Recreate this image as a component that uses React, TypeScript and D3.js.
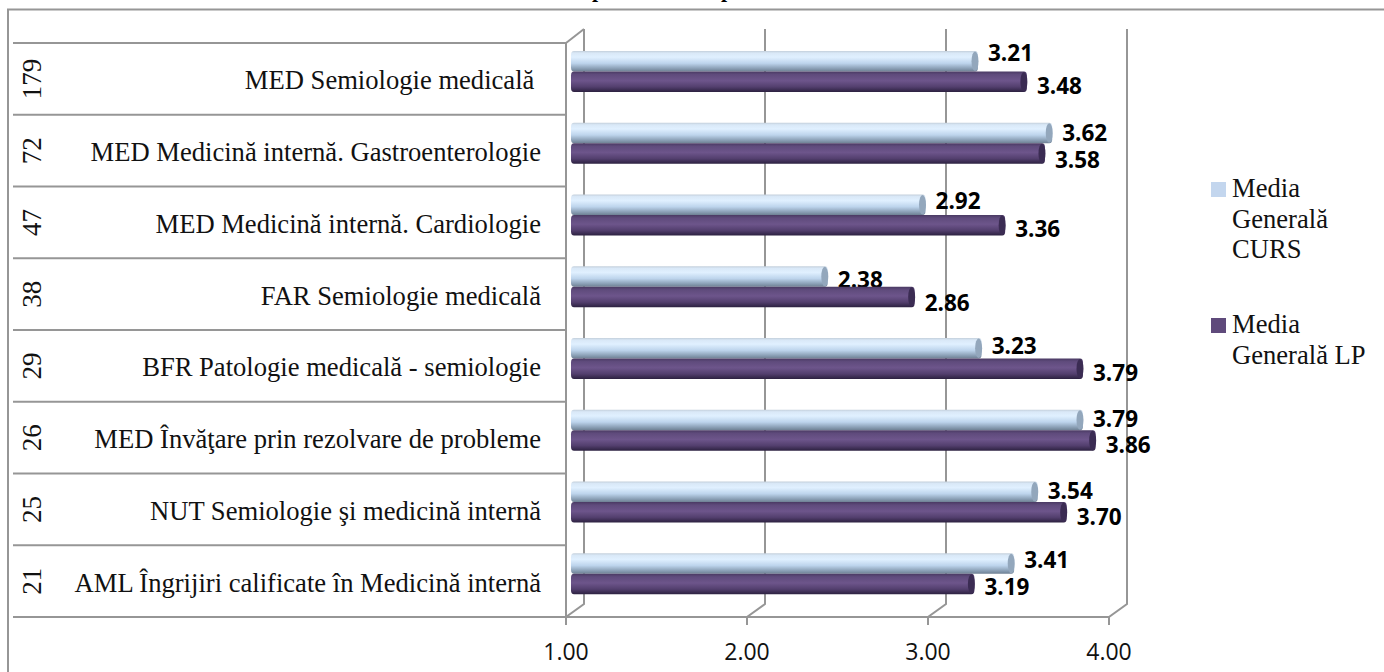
import React, { useEffect, useRef } from 'react';
import * as d3 from 'd3';

const counts = ['179', '72', '47', '38', '29', '26', '25', '21'];
const categories = [
  'MED Semiologie medicală ',
  'MED Medicină internă. Gastroenterologie',
  'MED Medicină internă. Cardiologie',
  'FAR Semiologie medicală',
  'BFR Patologie medicală - semiologie',
  'MED Învăţare prin rezolvare de probleme',
  'NUT Semiologie şi medicină internă',
  'AML Îngrijiri calificate în Medicină internă',
];
const mediaCurs = [3.21, 3.62, 2.92, 2.38, 3.23, 3.79, 3.54, 3.41];
const mediaLp = [3.48, 3.58, 3.36, 2.86, 3.79, 3.86, 3.7, 3.19];
const xTicks = [1, 2, 3, 4];

// hand placed data labels, Excel moved them around
const cursLabelDy = [-8, 0, -4, 3, -2, -1, -1, -4];
const lpLabelDy = [4, 6, 4, 6, 4, 4, 5, 3];

const SERIF = '"Liberation Serif", serif';
const SANS = '"Open Sans", sans-serif';
const GREY = '#969696';

export default function App() {
  const svgRef = useRef<SVGSVGElement>(null);

  useEffect(() => {
    const svg = d3.select(svgRef.current).html('');
    const front = { left: 566, right: 1109, top: 43, bottom: 617 };
    const depth = { x: 18, y: -13 };

    const x = d3.scaleLinear().domain([1, 4]).range([front.left, front.right]);
    const y = d3.scaleBand<number>()
      .domain(d3.range(categories.length))
      .range([front.top, front.bottom]);
    // the cylinders sit in the middle of the 3D floor
    const barShift = 12;
    const barX = (v: number) => x(v) + barShift;
    const barH = 20.5;
    const barTop = 8;

    const defs = svg.append('defs');
    const addGradient = (id: string, stops: [number, string][]) => {
      const g = defs.append('linearGradient').attr('id', id)
        .attr('x1', 0).attr('y1', 0).attr('x2', 0).attr('y2', 1);
      stops.forEach(([o, c]) => g.append('stop').attr('offset', o).attr('stop-color', c));
    };
    addGradient('cursGrad', [[0, '#c3cfdb'], [0.1, '#d9e8f7'], [0.3, '#e0f0ff'], [0.6, '#bdd4ec'], [0.85, '#8ba0b6'], [1, '#6e8093']]);
    addGradient('lpGrad', [[0, '#4a3a63'], [0.15, '#5f4b7c'], [0.45, '#6d558b'], [0.75, '#533f6e'], [1, '#2c2140']]);

    // outer frame
    svg.append('path')
      .attr('d', 'M8,672V9.5H1384')
      .attr('fill', 'none')
      .attr('stroke', GREY)
      .attr('stroke-width', 2);

    // descenders of the title, the rest of it is cut off by the page edge
    svg.selectAll('.title-bit')
      .data([592, 721])
      .enter()
      .append('text')
      .attr('x', d => d)
      .attr('y', -3)
      .attr('font-family', SERIF)
      .attr('font-weight', 'bold')
      .attr('font-size', 22)
      .text('p');

    // back wall and floor
    const wall = svg.append('g').attr('fill', 'none').attr('stroke', GREY).attr('stroke-width', 2);
    xTicks.forEach(t => {
      const px = x(t);
      wall.append('path').attr('d', `M${px + depth.x},${front.top + depth.y - 1}V${front.bottom + depth.y}L${px},${front.bottom}V${front.bottom + 8}`);
    });
    wall.append('path').attr('d', `M${front.left},${front.top}L${front.left + depth.x},${front.top + depth.y - 1}`);
    wall.append('line').attr('x1', front.left).attr('x2', front.left).attr('y1', front.top).attr('y2', front.bottom);
    wall.append('line').attr('x1', 13).attr('x2', front.right).attr('y1', front.bottom).attr('y2', front.bottom);

    // category table lines
    d3.range(categories.length).forEach(i => {
      wall.append('line').attr('x1', 13).attr('x2', front.left)
        .attr('y1', y(i)!).attr('y2', y(i)!);
    });

    const rows = svg.selectAll('.row')
      .data(categories)
      .enter()
      .append('g')
      .attr('class', 'row')
      .attr('transform', (_, i) => `translate(0,${y(i)})`);

    rows.append('text')
      .attr('x', 541)
      .attr('y', y.bandwidth() / 2 + 2.5)
      .attr('dy', '0.3em')
      .attr('text-anchor', 'end')
      .style('white-space', 'pre')
      .attr('font-family', SERIF)
      .attr('font-size', 26.6)
      .attr('fill', '#111')
      .text(d => d);

    rows.append('text')
      .attr('transform', `translate(32,${y.bandwidth() / 2}) rotate(-90)`)
      .attr('dy', '0.32em')
      .attr('text-anchor', 'middle')
      .attr('font-family', SERIF)
      .attr('font-size', 27)
      .attr('fill', '#111')
      .text((_, i) => counts[i]);

    const drawSeries = (values: number[], offset: number, grad: string, cap: string, nudges: number[]) => {
      values.forEach((v, i) => {
        const top = y(i)! + offset;
        const g = svg.append('g');
        g.append('rect')
          .attr('x', front.left + 5)
          .attr('y', top)
          .attr('width', barX(v) - front.left - 5)
          .attr('height', barH)
          .attr('rx', 3)
          .attr('ry', 4)
          .attr('fill', `url(#${grad})`);
        g.append('ellipse')
          .attr('cx', barX(v) - 3)
          .attr('cy', top + barH / 2)
          .attr('rx', 3.5)
          .attr('ry', barH / 2 - 0.5)
          .attr('fill', cap);
        g.append('text')
          .attr('x', barX(v) + 10)
          .attr('y', top + barH / 2 + nudges[i])
          .attr('dy', '0.36em')
          .attr('font-family', SANS)
          .attr('font-weight', 'bold')
          .attr('font-size', 22.5)
          .attr('fill', '#000')
          .text(d3.format('.2f')(v));
      });
    };
    drawSeries(mediaCurs, barTop, 'cursGrad', '#93a7bc', cursLabelDy);
    drawSeries(mediaLp, barTop + barH, 'lpGrad', '#3b2c53', lpLabelDy);

    // value axis labels
    svg.selectAll('.tick-label')
      .data(xTicks)
      .enter()
      .append('text')
      .attr('x', d => x(d))
      .attr('y', 660)
      .attr('text-anchor', 'middle')
      .attr('font-family', SANS)
      .attr('font-size', 23)
      .attr('fill', '#111')
      .text(d => d3.format('.2f')(d));

    // legend
    const legend = [
      { color: '#c3d6ee', y: 182, lines: ['Media', 'Generală', 'CURS'] },
      { color: '#5f4a7b', y: 318, lines: ['Media', 'Generală LP'] },
    ];
    legend.forEach(l => {
      svg.append('rect').attr('x', 1211).attr('y', l.y).attr('width', 15).attr('height', 15).attr('fill', l.color);
      l.lines.forEach((t, i) => {
        svg.append('text')
          .attr('x', 1232)
          .attr('y', l.y + 15 + i * 30.5)
          .attr('font-family', SERIF)
          .attr('font-size', 26.6)
          .attr('fill', '#111')
          .text(t);
      });
    });
  }, []);

  return <svg ref={svgRef} width={1384} height={672} style={{ position: 'fixed', left: 0, top: 0, background: '#fff' }} />;
}
